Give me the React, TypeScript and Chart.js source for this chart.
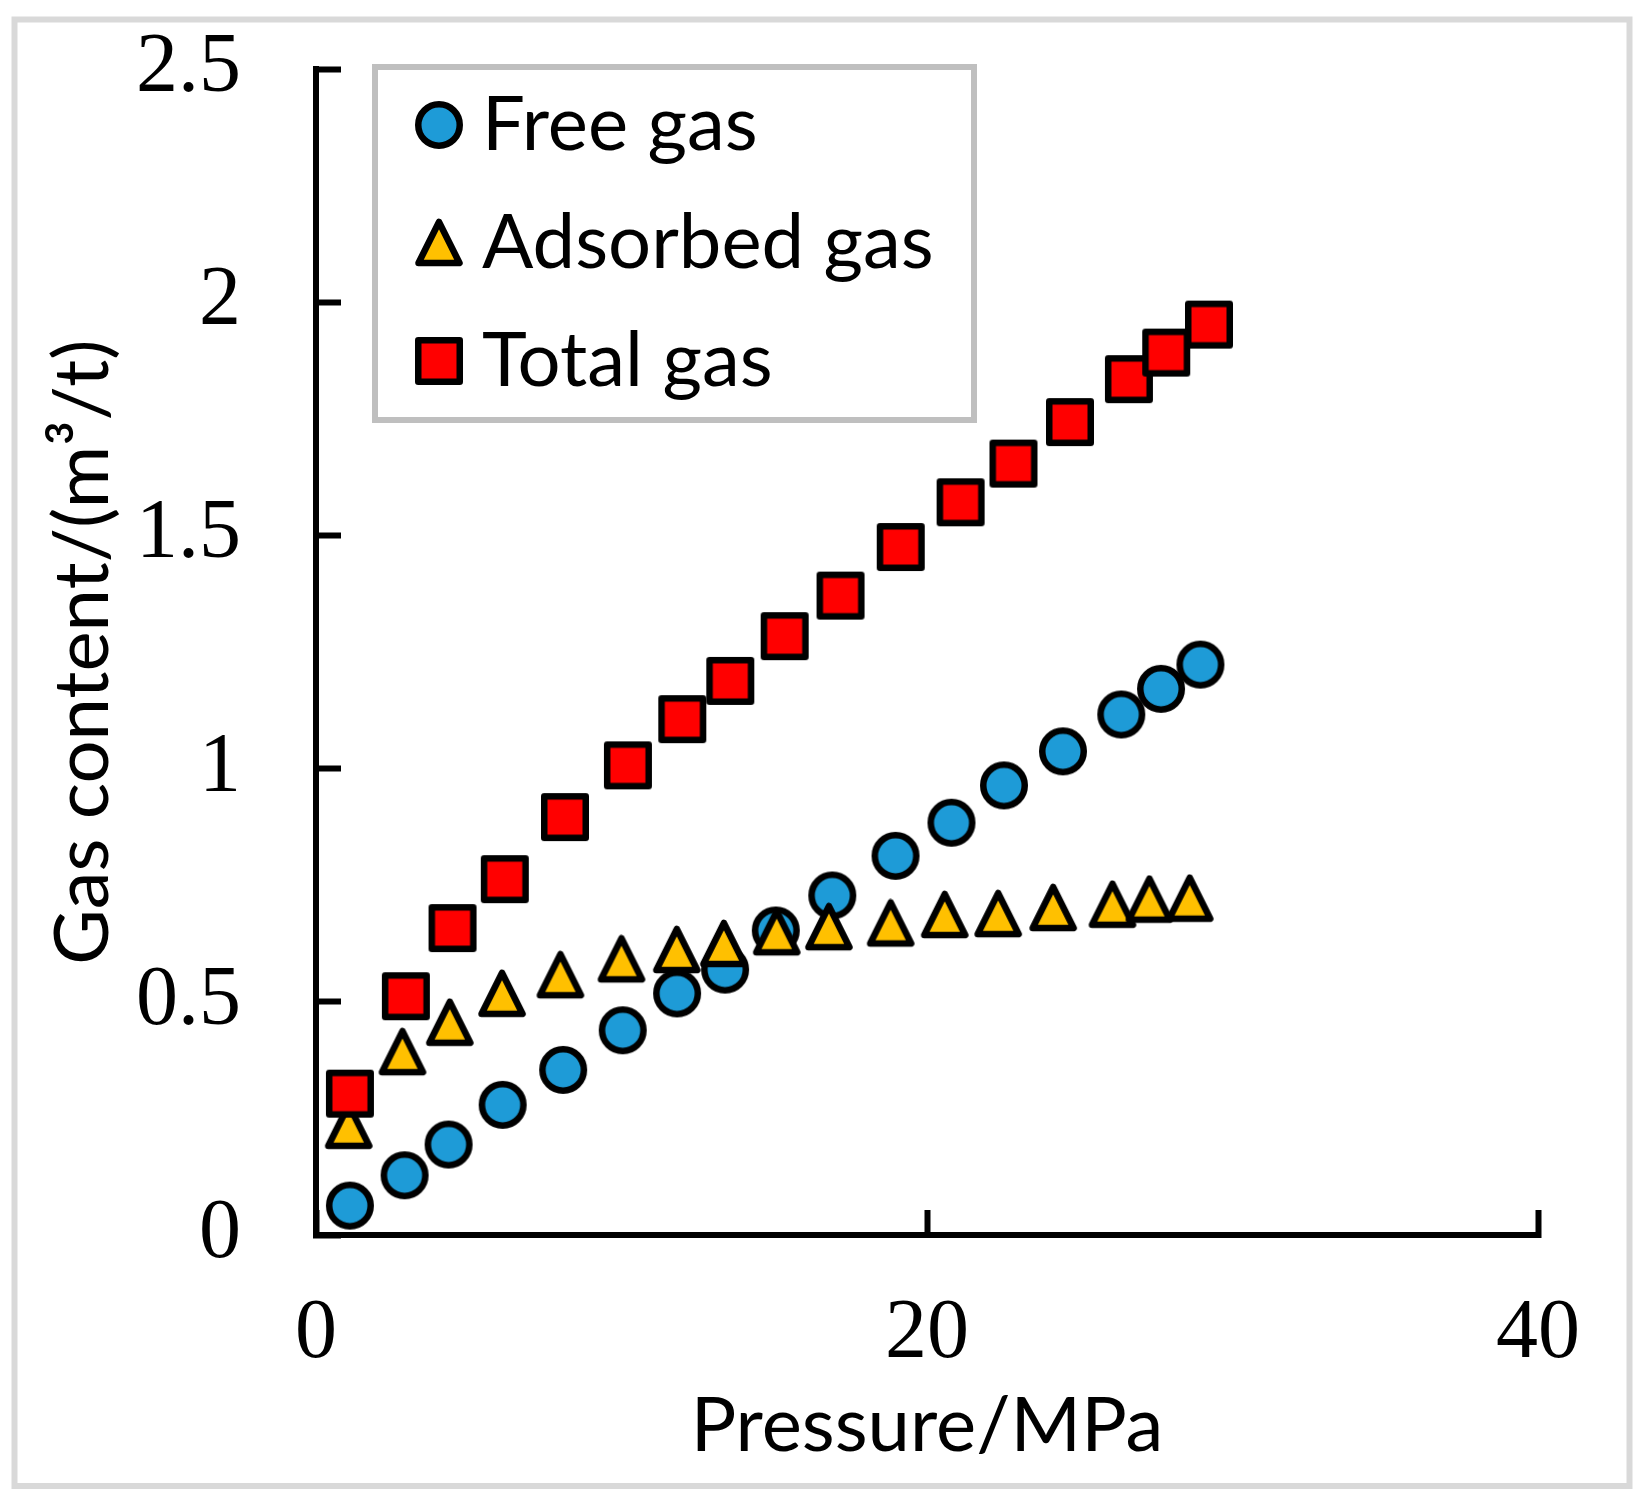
import { useEffect, useRef } from 'react'
import Chart from 'chart.js/auto'
import type { ChartConfiguration, Plugin } from 'chart.js'

// values
const seriesNames = ['Free gas', 'Adsorbed gas', 'Total gas']

const freePressure = [1.11, 2.9, 4.34, 6.11, 8.09, 10.04, 11.82, 13.39, 15.05, 16.9, 18.97, 20.8, 22.52, 24.45, 26.36, 27.66, 28.95]
const freeGas = [0.063, 0.128, 0.194, 0.279, 0.354, 0.439, 0.518, 0.569, 0.653, 0.728, 0.813, 0.884, 0.964, 1.037, 1.116, 1.171, 1.223]

const adsorbedPressure = [1.07, 2.83, 4.38, 6.09, 8.0, 10.0, 11.81, 13.35, 15.08, 16.79, 18.81, 20.58, 22.33, 24.13, 26.07, 27.28, 28.6]
const adsorbedGas = [0.234, 0.392, 0.455, 0.517, 0.557, 0.591, 0.611, 0.624, 0.649, 0.66, 0.668, 0.686, 0.688, 0.701, 0.708, 0.719, 0.721]

const totalPressure = [1.11, 2.94, 4.47, 6.18, 8.15, 10.21, 11.99, 13.56, 15.34, 17.17, 19.14, 21.1, 22.83, 24.68, 26.61, 27.83, 29.23]
const totalGas = [0.303, 0.512, 0.658, 0.763, 0.896, 1.007, 1.106, 1.188, 1.284, 1.371, 1.475, 1.571, 1.654, 1.743, 1.835, 1.892, 1.952]

const xRange = [0, 40]
const xStep = 20
const yRange = [0, 2.5]
const yStep = 0.5

const SANS = 'Lato, "DejaVu Sans", sans-serif'
const SERIF = '"Liberation Serif", "Times New Roman", serif'
const TEXT_SIZE = 76

// Excel-like markers with a thick black outline
function marker(draw: (ctx: CanvasRenderingContext2D) => void) {
  const c = document.createElement('canvas')
  c.width = 50
  c.height = 50
  const ctx = c.getContext('2d')!
  ctx.lineWidth = 6.5
  ctx.strokeStyle = '#000'
  draw(ctx)
  return c
}

const circleMarker = marker((ctx) => {
  ctx.fillStyle = '#1E9BD7'
  ctx.beginPath()
  ctx.arc(25, 25, 20.75, 0, Math.PI * 2)
  ctx.fill()
  ctx.stroke()
})

const triangleMarker = marker((ctx) => {
  ctx.fillStyle = '#FFC000'
  ctx.lineJoin = 'round'
  ctx.beginPath()
  ctx.moveTo(25, 4)
  ctx.lineTo(45.5, 45)
  ctx.lineTo(4.5, 45)
  ctx.closePath()
  ctx.fill()
  ctx.stroke()
})

const squareMarker = marker((ctx) => {
  ctx.fillStyle = '#FF0000'
  ctx.lineJoin = 'round'
  ctx.beginPath()
  ctx.rect(4.25, 4.25, 41.5, 41.5)
  ctx.fill()
  ctx.stroke()
})

const toPoints = (xs: number[], ys: number[]) => xs.map((x, i) => ({ x, y: ys[i] }))

// legend sits inside the plot area, moved to where the original puts it
const legendPlacement: Plugin = {
  id: 'legendPlacement',
  afterLayout(chart) {
    const lg: any = chart.legend
    if (!lg) return
    const area = chart.chartArea
    lg.left = area.left + 76
    lg.right = lg.left + lg.width
    lg.top = area.top - 24
    lg.bottom = lg.top + lg.height
  },
}

const frames: Plugin = {
  id: 'frames',
  beforeDraw(chart) {
    const { ctx } = chart
    ctx.save()
    ctx.fillStyle = '#fff'
    ctx.fillRect(0, 0, chart.width, chart.height)
    ctx.strokeStyle = '#D9D9D9'
    ctx.lineWidth = 6
    ctx.strokeRect(14.5, 19.5, chart.width - 35, chart.height - 40.5)
    ctx.restore()
  },
  afterDraw(chart) {
    const lg: any = chart.legend
    const boxes = lg?.legendHitBoxes as { left: number; top: number; width: number; height: number }[]
    if (!boxes || !boxes.length) return
    const left = Math.min(...boxes.map((b) => b.left)) - 59
    const top = Math.min(...boxes.map((b) => b.top)) - 20
    const bottom = Math.max(...boxes.map((b) => b.top + b.height)) + 21
    const { ctx } = chart
    ctx.save()
    ctx.strokeStyle = '#BFBFBF'
    ctx.lineWidth = 6
    ctx.strokeRect(left, top, 599, bottom - top)
    ctx.restore()
  },
}

const config: ChartConfiguration<'scatter'> = {
  type: 'scatter',
  data: {
    datasets: [
      { label: seriesNames[0], data: toPoints(freePressure, freeGas), pointStyle: circleMarker, pointRadius: 24, order: 3 },
      { label: seriesNames[1], data: toPoints(adsorbedPressure, adsorbedGas), pointStyle: triangleMarker, pointRadius: 24, order: 2 },
      { label: seriesNames[2], data: toPoints(totalPressure, totalGas), pointStyle: squareMarker, pointRadius: 24, order: 1 },
    ],
  },
  options: {
    responsive: false,
    animation: false,
    devicePixelRatio: 1,
    events: [],
    layout: { padding: { left: 0, right: 112, top: 69, bottom: 0 } },
    scales: {
      x: {
        type: 'linear',
        min: xRange[0],
        max: xRange[1],
        afterFit: (s: any) => {
          s.height = 272
          s.paddingLeft = 0
          s.paddingRight = 0
        },
        border: { display: true, color: '#000', width: 6 },
        grid: { drawOnChartArea: false, drawTicks: true, tickLength: -25, tickWidth: 6, tickColor: '#000' },
        ticks: {
          stepSize: xStep,
          maxRotation: 0,
          autoSkip: false,
          padding: 83,
          color: '#000',
          font: { family: SERIF, size: 84, lineHeight: 1 },
          callback: (v) => String(v),
        },
        title: {
          display: true,
          text: 'Pressure/MPa',
          color: '#000',
          font: { family: SANS, size: TEXT_SIZE, lineHeight: 1 },
          padding: { top: 0, bottom: 43 },
        },
      },
      y: {
        type: 'linear',
        min: yRange[0],
        max: yRange[1],
        afterFit: (s: any) => {
          s.width = 316
          s.paddingTop = 0
          s.paddingBottom = 0
        },
        border: { display: true, color: '#000', width: 6 },
        grid: { drawOnChartArea: false, drawTicks: true, tickLength: -25, tickWidth: 6, tickColor: '#000' },
        ticks: {
          stepSize: yStep,
          padding: 100,
          color: '#000',
          font: { family: SERIF, size: 84, lineHeight: 1 },
          callback: (v) => String(v),
        },
        title: {
          display: true,
          text: 'Gas content/(m³/t)',
          color: '#000',
          font: { family: SANS, size: TEXT_SIZE, lineHeight: 1 },
          padding: { top: 45, bottom: 0 },
        },
      },
    },
    plugins: {
      tooltip: { enabled: false },
      legend: {
        position: 'chartArea',
        align: 'start',
        labels: {
          usePointStyle: true,
          boxWidth: 10,
          padding: 42,
          color: '#000',
          font: { family: SANS, size: TEXT_SIZE },
          sort: (a, b) => (a.datasetIndex ?? 0) - (b.datasetIndex ?? 0),
        },
      },
    },
  },
  plugins: [legendPlacement, frames],
}

function GasChart() {
  const ref = useRef<HTMLCanvasElement>(null)

  useEffect(() => {
    if (!ref.current) return
    const chart = new Chart(ref.current, config)
    return () => chart.destroy()
  }, [])

  return <canvas ref={ref} width={1650} height={1507} style={{ display: 'block' }} />
}

export default function App() {
  return (
    <div style={{ position: 'absolute', left: 0, top: 0, width: 1650, height: 1507, background: '#fff' }}>
      <GasChart />
    </div>
  )
}
